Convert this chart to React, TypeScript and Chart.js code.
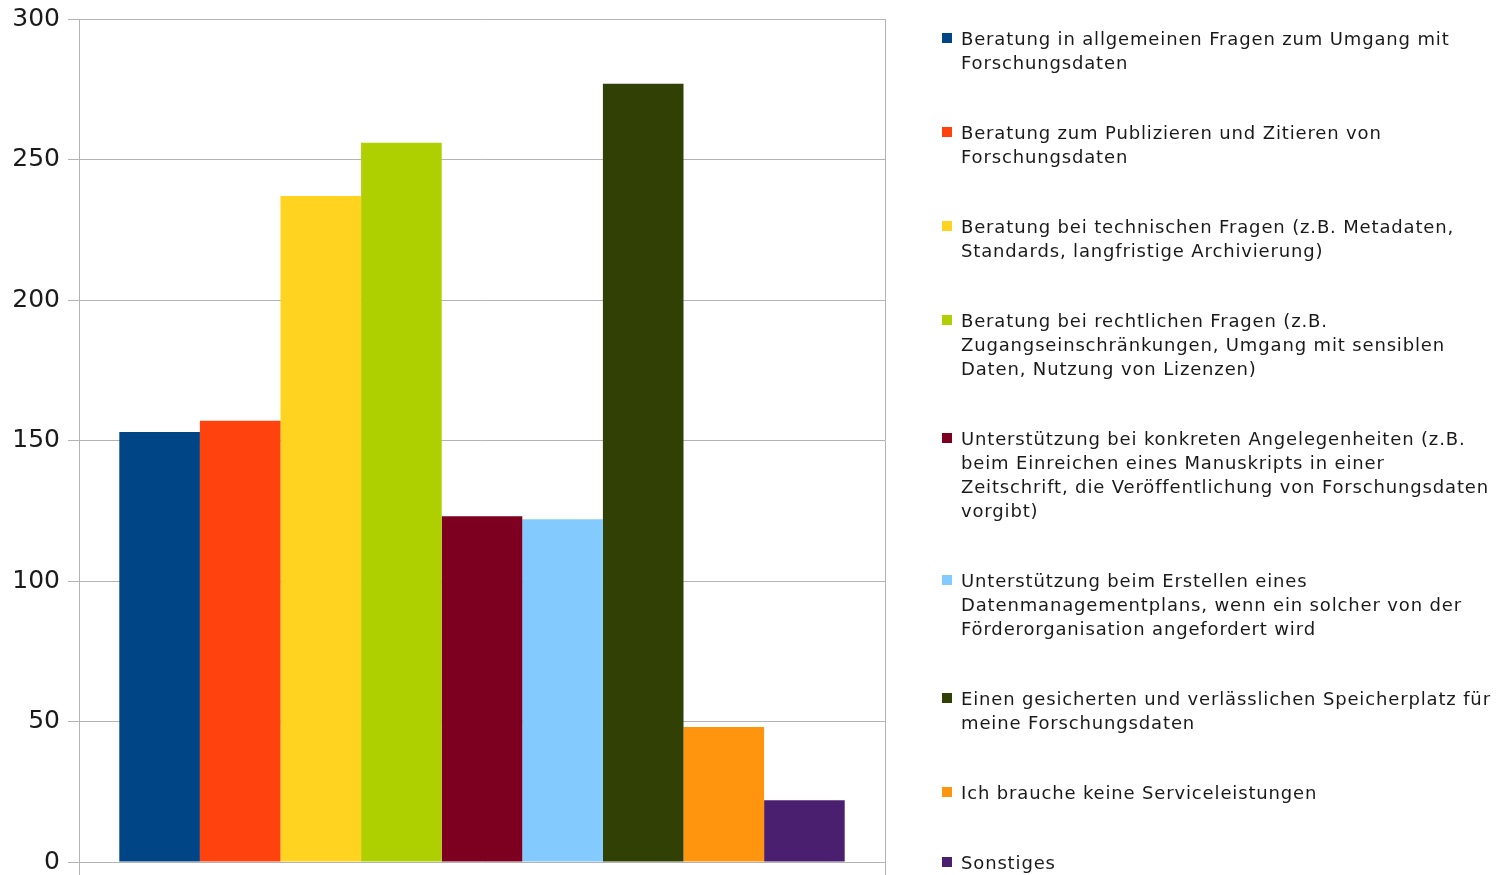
import React, { useEffect, useRef } from "react";
import { Chart, registerables } from "chart.js";

Chart.register(...registerables);

// Service wishes (number of mentions), one bar per answer option
const seriesLabels: string[] = [
  "Beratung in allgemeinen Fragen zum Umgang mit\nForschungsdaten",
  "Beratung zum Publizieren und Zitieren von\nForschungsdaten",
  "Beratung bei technischen Fragen (z.B. Metadaten,\nStandards, langfristige Archivierung)",
  "Beratung bei rechtlichen Fragen (z.B.\nZugangseinschränkungen, Umgang mit sensiblen\nDaten, Nutzung von Lizenzen)",
  "Unterstützung bei konkreten Angelegenheiten (z.B.\nbeim Einreichen eines Manuskripts in einer\nZeitschrift, die Veröffentlichung von Forschungsdaten\nvorgibt)",
  "Unterstützung beim Erstellen eines\nDatenmanagementplans, wenn ein solcher von der\nFörderorganisation angefordert wird",
  "Einen gesicherten und verlässlichen Speicherplatz für\nmeine Forschungsdaten",
  "Ich brauche keine Serviceleistungen",
  "Sonstiges",
];

const seriesValues: number[] = [153, 157, 237, 256, 123, 122, 277, 48, 22];

const seriesColors: string[] = [
  "#004586",
  "#ff420e",
  "#ffd320",
  "#aecf00",
  "#7e0021",
  "#83caff",
  "#314004",
  "#ff950e",
  "#4b1f6f",
];

const categories: string[] = [""];

const yTicks: number[] = [0, 50, 100, 150, 200, 250, 300];

const gridColor = "#b3b3b3";
const textColor = "#1a1a1a";

export default function App() {
  const canvasRef = useRef<HTMLCanvasElement | null>(null);

  useEffect(() => {
    if (!canvasRef.current) return;
    const chart = new Chart(canvasRef.current, {
      type: "bar",
      data: {
        labels: categories,
        datasets: seriesLabels.map((label, i) => ({
          label,
          data: [seriesValues[i]],
          backgroundColor: seriesColors[i],
          borderWidth: 0,
          barPercentage: 1,
          categoryPercentage: 0.9,
        })),
      },
      options: {
        animation: false,
        responsive: false,
        maintainAspectRatio: false,
        layout: { padding: { left: 0, right: 613, top: 19, bottom: 0 } },
        plugins: {
          legend: { display: false },
          tooltip: { enabled: false },
        },
        scales: {
          x: {
            afterFit: (scale: any) => {
              scale.height = 13;
              scale.paddingLeft = 0;
              scale.paddingRight = 0;
            },
            grid: {
              color: gridColor,
              lineWidth: 1,
              drawTicks: true,
              tickLength: 13,
            },
            border: { display: false },
            ticks: { display: false },
          },
          y: {
            min: yTicks[0],
            max: yTicks[yTicks.length - 1],
            afterFit: (scale: any) => {
              scale.width = 79;
              scale.paddingTop = 0;
              scale.paddingBottom = 0;
            },
            afterBuildTicks: (scale: any) => {
              scale.ticks = yTicks.map((v) => ({ value: v }));
            },
            grid: {
              color: gridColor,
              lineWidth: 1,
              tickLength: 11,
            },
            border: { color: gridColor, width: 1 },
            ticks: {
              color: textColor,
              padding: 8,
              font: { family: "'DejaVu Sans'", size: 25, lineHeight: 1 },
            },
          },
        },
      },
    });
    return () => chart.destroy();
  }, []);

  return (
    <div style={{ position: "absolute", left: 0, top: 0, width: 1498, height: 875, background: "#fff", overflow: "hidden" }}>
      <canvas ref={canvasRef} width={1498} height={875} style={{ position: "absolute", left: 0, top: 0 }} />
      <div
        style={{
          position: "absolute",
          left: 942,
          top: 27,
          fontFamily: "'DejaVu Sans'",
          fontSize: 18,
          lineHeight: "24px",
          color: textColor,
          letterSpacing: "0.85px",
        }}
      >
        {seriesLabels.map((label, i) => (
          <div key={i} style={{ position: "relative", marginBottom: 46, paddingLeft: 19, whiteSpace: "pre" }}>
            <span
              style={{
                position: "absolute",
                left: 0,
                top: 6,
                width: 10,
                height: 10,
                background: seriesColors[i],
              }}
            />
            {label}
          </div>
        ))}
      </div>
    </div>
  );
}
